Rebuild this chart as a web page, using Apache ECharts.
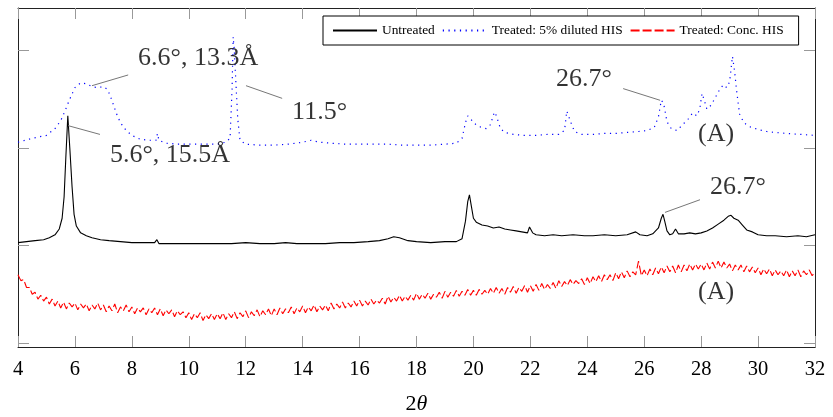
<!DOCTYPE html>
<html><head><meta charset="utf-8">
<script src="https://cdn.jsdelivr.net/npm/echarts@6/dist/echarts.min.js"></script>
<style>html,body{margin:0;padding:0;background:#fff}#c{width:833px;height:417px}</style>
</head><body><div id="c"></div>
<script>
const seriesNames = ['Untreated', 'Treated: 5% diluted HIS', 'Treated: Conc. HIS'];

// Untreated: [2theta, intensity (offset units)]
const untreated = [[4.0,103],[4.3,104],[4.6,105],[4.9,106],[5.1,108],[5.3,111],[5.45,117],[5.55,128],[5.62,150],[5.68,190],[5.75,233],[5.82,200],[5.9,160],[5.97,132],[6.05,120],[6.2,113],[6.4,110],[6.6,108],[6.9,106],[7.2,105],[7.6,104],[8.0,103],[8.5,103],[8.8,103],[8.88,106],[8.95,102],[9.2,102],[9.6,102],[10,102],[10.5,102],[11,102],[11.5,102],[12,103],[12.5,102],[13,102],[13.4,103],[13.8,102],[14.3,102],[14.8,102],[15.3,103],[15.8,103],[16.3,104],[16.7,105],[17.0,107],[17.2,109],[17.4,108],[17.7,105],[18,104],[18.5,103],[19,104],[19.4,104],[19.6,107],[19.72,125],[19.8,145],[19.86,152],[19.93,140],[20.0,128],[20.1,124],[20.3,121],[20.5,120],[20.7,118],[20.9,119],[21.1,117],[21.3,116],[21.5,115],[21.7,114],[21.9,113],[21.97,119],[22.02,121],[22.08,113],[22.2,111],[22.5,110],[22.8,111],[23.1,110],[23.5,111],[23.9,110],[24.2,110],[24.6,111],[25.0,110],[25.4,111],[25.7,114],[25.85,111],[26.1,110],[26.3,112],[26.5,118],[26.6,128],[26.66,132],[26.72,125],[26.8,115],[26.9,111],[27.0,112],[27.1,117],[27.2,112],[27.4,112],[27.6,113],[27.8,112],[28.0,113],[28.2,115],[28.4,118],[28.6,122],[28.8,126],[28.95,130],[29.05,131],[29.15,128],[29.3,126],[29.45,121],[29.6,116],[29.8,114],[30.0,111],[30.3,110],[30.6,110],[31,109],[31.4,110],[31.7,109],[32,111]];

// Treated: 5% diluted HIS
const diluted = [[4.0,206],[4.5,210],[5.0,213],[5.3,220],[5.5,228],[5.65,238],[5.8,249],[6.0,262],[6.2,267],[6.4,266],[6.6,263],[6.8,262],[7.0,263],[7.15,260],[7.3,249],[7.45,236],[7.6,226],[7.8,218],[8.0,213],[8.3,209],[8.6,208],[8.85,208],[8.9,215],[8.95,208],[9.2,205],[9.6,204],[10,204],[10.5,204],[11,204],[11.3,206],[11.45,210],[11.52,260],[11.56,314],[11.6,300],[11.65,270],[11.72,230],[11.8,208],[12.0,204],[12.5,203],[13,203],[13.5,204],[14,206],[14.3,208],[14.6,206],[15,205],[15.5,204],[16,204],[16.5,204],[17,204],[17.5,203],[18,203],[18.5,203],[19,204],[19.4,205],[19.6,210],[19.72,226],[19.8,233],[19.88,231],[20.0,226],[20.2,222],[20.45,220],[20.6,224],[20.7,234],[20.76,237],[20.85,229],[20.95,220],[21.1,216],[21.4,214],[21.8,213],[22.2,213],[22.6,214],[23.0,214],[23.2,218],[23.28,238],[23.33,240],[23.4,228],[23.55,217],[23.8,214],[24.2,214],[24.6,215],[25.0,215],[25.4,216],[25.8,217],[26.1,218],[26.35,221],[26.5,232],[26.6,249],[26.68,246],[26.8,227],[26.95,220],[27.15,218],[27.35,224],[27.55,230],[27.7,236],[27.85,233],[27.95,240],[28.03,256],[28.1,250],[28.2,240],[28.35,244],[28.5,252],[28.65,260],[28.78,265],[28.9,262],[29.0,268],[29.1,294],[29.17,280],[29.25,258],[29.35,235],[29.5,226],[29.7,222],[30.0,219],[30.3,217],[30.6,216],[31,215],[31.5,214],[32,213]];

// Treated: Conc. HIS, sampled every 0.1 deg from 4.0 to 32.0
const concStart = 4.0;
const concStep = 0.1;
const concValues = [
70,64,65,57,57,50,52,45,49,43,
47,40,45,38,43,36,42,35,41,37,
41,34,40,36,40,33,39,35,41,34,
39,32,38,33,40,31,37,33,39,32,
37,30,36,32,36,29,35,31,36,29,
35,28,34,30,34,27,33,29,32,26,
31,24,30,26,31,23,29,25,30,24,
30,25,31,24,30,26,32,25,31,27,
33,26,32,28,34,27,33,29,35,28,
35,29,36,30,35,31,37,30,36,32,
38,31,37,33,39,32,38,34,39,33,
41,35,40,36,42,36,41,37,43,38,
44,38,43,39,45,40,44,41,46,40,
48,42,47,43,49,43,48,44,49,44,
51,45,50,46,51,45,50,47,52,46,
53,47,52,48,54,48,53,49,55,49,
54,49,55,50,54,50,56,51,57,51,
56,50,57,52,58,51,57,53,59,52,
59,53,60,54,61,55,60,56,62,56,
64,58,63,59,65,60,64,61,66,60,
67,61,68,63,69,63,70,65,70,64,
72,66,73,67,74,68,73,70,84,69,
75,69,76,70,77,71,78,72,79,73,
79,72,80,73,80,74,81,75,81,76,
81,75,82,76,83,77,84,77,83,77,
81,74,80,75,80,73,79,73,78,72,
77,70,76,71,76,69,75,70,74,69,
75,68,74,69,75,68,74,70,75,69,
73];

const xMin = 4, xMax = 32, xInterval = 2;
const yTickValues = [0, 100, 200, 300];

const annotationTexts = ['6.6°, 13.3Å', '5.6°, 15.5Å', '11.5°', '26.7°', '(A)', '26.7°', '(A)'];
const annotationAt = [[8.22,292],[7.23,193],[13.63,237],[22.90,271],[27.89,214],[28.31,160],[27.89,52]];
const leaderLines = [
  [[6.60,264],[7.87,275]],
  [[5.76,223],[6.88,214]],
  [[12.01,264],[13.28,251]],
  [[25.26,261],[26.56,249]],
  [[26.73,134],[27.96,147]]
];

const serif = "'Liberation Serif','DejaVu Serif','Times New Roman',serif";
const concData = concValues.map((v, i) => [+(concStart + i * concStep).toFixed(2), v]);

const chart = echarts.init(document.getElementById('c'), null, {renderer: 'canvas'});
const axisLineStyle = {color: '#222', width: 1};
const tickStyle = {color: '#999', width: 1};
chart.setOption({
  animation: false,
  backgroundColor: '#fff',
  grid: {left: 18, right: 18, top: 8, bottom: 70, containLabel: false, outerBoundsMode: 'none'},
  legend: {
    data: seriesNames,
    left: 323, top: 16,
    orient: 'horizontal',
    itemWidth: 44, itemHeight: 10, itemGap: 7,
    padding: [8, 15, 8, 9],
    borderColor: '#000', borderWidth: 1, backgroundColor: '#fff',
    itemStyle: {color: 'rgba(0,0,0,0)', borderColor: 'rgba(0,0,0,0)', borderWidth: 0, opacity: 0},
    textStyle: {fontFamily: serif, fontSize: 13.4, color: '#000'}
  },
  xAxis: [{
    type: 'value', min: xMin, max: xMax, interval: xInterval, position: 'bottom',
    axisLine: {show: true, onZero: false, lineStyle: axisLineStyle},
    axisTick: {show: true, inside: true, length: 11, lineStyle: tickStyle},
    splitLine: {show: false},
    axisLabel: {fontFamily: serif, fontSize: 20.5, color: '#000', margin: 12},
    name: '{a|2}{b|θ}', nameLocation: 'middle', nameGap: 46,
    nameTextStyle: {rich: {a: {fontFamily: serif, fontSize: 22, color: '#000'}, b: {fontFamily: serif, fontSize: 22, fontStyle: 'italic', color: '#000'}}}
  }, {
    type: 'value', min: xMin, max: xMax, interval: xInterval, position: 'top',
    axisLine: {show: true, onZero: false, lineStyle: axisLineStyle},
    axisTick: {show: true, inside: true, length: 11, lineStyle: tickStyle},
    splitLine: {show: false}, axisLabel: {show: false}
  }],
  yAxis: [{
    type: 'value', min: -4.1, max: 343.7, position: 'left',
    axisLine: {show: true, onZero: false, lineStyle: axisLineStyle},
    axisTick: {show: true, inside: true, length: 11, lineStyle: tickStyle, customValues: yTickValues},
    axisLabel: {show: false, customValues: yTickValues},
    splitLine: {show: false}
  }, {
    type: 'value', min: -4.1, max: 343.7, position: 'right',
    axisLine: {show: true, onZero: false, lineStyle: axisLineStyle},
    axisTick: {show: true, inside: true, length: 11, lineStyle: tickStyle, customValues: yTickValues},
    axisLabel: {show: false, customValues: yTickValues},
    splitLine: {show: false}
  }],
  series: [{
    name: seriesNames[2], type: 'line', data: concData, symbol: 'none', showSymbol: false,
    lineStyle: {color: '#ff0000', width: 1.1, type: [9, 3]}, itemStyle: {color: '#ff0000'}, z: 2
  }, {
    name: seriesNames[0], type: 'line', data: untreated, symbol: 'none', showSymbol: false,
    lineStyle: {color: '#000', width: 1.1, type: 'solid'}, itemStyle: {color: '#000'}, z: 3
  }, {
    name: seriesNames[1], type: 'line', data: diluted, symbol: 'none', showSymbol: false,
    lineStyle: {color: '#0000ff', width: 1.2, type: [1.2, 4.5]}, itemStyle: {color: '#0000ff'}, z: 4
  }, {
    name: 'leaders', type: 'lines', coordinateSystem: 'cartesian2d', silent: true,
    data: leaderLines.map(c => ({coords: c})),
    lineStyle: {color: '#777', width: 1, opacity: 1, curveness: 0}, z: 5
  }, {
    name: 'annotations', type: 'scatter', symbolSize: 0, silent: true,
    data: annotationAt.map((p, i) => ({value: p, label: {formatter: annotationTexts[i]}})),
    label: {show: true, position: 'right', distance: 0, align: 'left', verticalAlign: 'middle',
      fontFamily: serif, fontSize: 26, color: '#000'},
    z: 6
  }]
});
</script>
</body></html>
